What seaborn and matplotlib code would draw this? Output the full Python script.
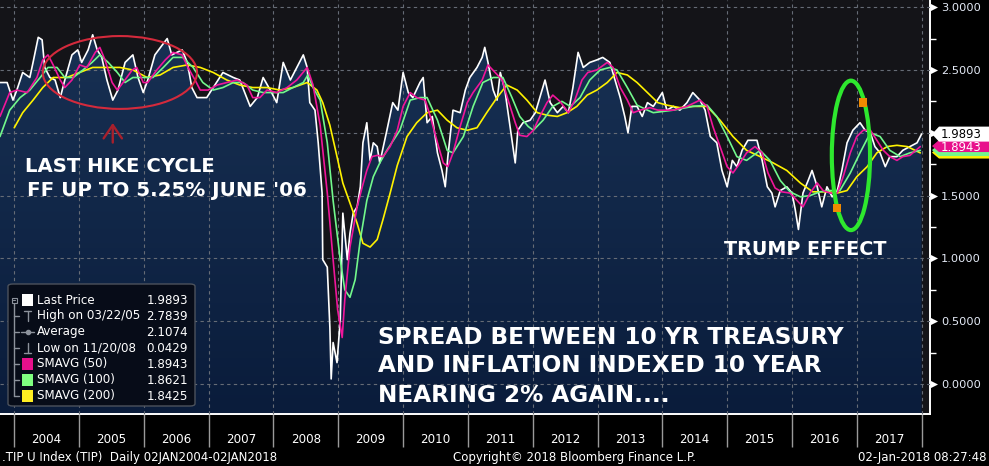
import numpy as np
import pandas as pd
import matplotlib
matplotlib.use("Agg")
import matplotlib.pyplot as plt
import matplotlib.transforms as mtransforms
from matplotlib.patches import Ellipse, FancyBboxPatch, Rectangle, Polygon
from matplotlib.lines import Line2D
import seaborn as sns

# ---------------- data ----------------
price_t = [2003.78, 2003.89, 2003.98, 2004.04, 2004.13, 2004.24, 2004.29, 2004.37, 2004.43, 2004.47,
           2004.55, 2004.63, 2004.71, 2004.78, 2004.89, 2004.98, 2005.04, 2005.14, 2005.21, 2005.28,
           2005.35, 2005.43, 2005.52, 2005.60, 2005.71, 2005.83, 2005.91, 2005.99, 2006.06, 2006.17,
           2006.30, 2006.36, 2006.43, 2006.59, 2006.67, 2006.74, 2006.82, 2006.97, 2007.07, 2007.22,
           2007.38, 2007.48, 2007.64, 2007.75, 2007.84, 2007.95, 2008.05, 2008.15, 2008.26, 2008.36,
           2008.46, 2008.52, 2008.56, 2008.64, 2008.69, 2008.75, 2008.76, 2008.83, 2008.87, 2008.89,
           2008.92, 2008.98, 2009.03, 2009.07, 2009.14, 2009.18, 2009.23, 2009.29, 2009.34, 2009.38,
           2009.44, 2009.49, 2009.54, 2009.60, 2009.64, 2009.75, 2009.84, 2009.92, 2010.00, 2010.08,
           2010.15, 2010.26, 2010.31, 2010.37, 2010.45, 2010.53, 2010.60, 2010.65, 2010.69, 2010.77,
           2010.88, 2010.96, 2011.03, 2011.14, 2011.22, 2011.26, 2011.31, 2011.39, 2011.45, 2011.50,
           2011.57, 2011.65, 2011.73, 2011.77, 2011.85, 2011.96, 2012.04, 2012.11, 2012.19, 2012.27,
           2012.38, 2012.47, 2012.55, 2012.62, 2012.70, 2012.78, 2012.88, 2012.99, 2013.08, 2013.19,
           2013.27, 2013.35, 2013.42, 2013.47, 2013.53, 2013.61, 2013.69, 2013.77, 2013.86, 2014.00,
           2014.07, 2014.17, 2014.27, 2014.38, 2014.47, 2014.58, 2014.66, 2014.74, 2014.84, 2014.92,
           2015.00, 2015.08, 2015.15, 2015.23, 2015.32, 2015.46, 2015.54, 2015.62, 2015.69, 2015.74,
           2015.82, 2015.92, 2016.00, 2016.05, 2016.10, 2016.17, 2016.25, 2016.31, 2016.39, 2016.46,
           2016.54, 2016.62, 2016.70, 2016.77, 2016.85, 2016.94, 2017.05, 2017.13, 2017.21, 2017.28,
           2017.36, 2017.44, 2017.51, 2017.62, 2017.71, 2017.82, 2017.93, 2018.00]
price_v = [2.40, 2.40, 2.26, 2.34, 2.48, 2.44, 2.56, 2.76, 2.74, 2.52,
           2.44, 2.42, 2.28, 2.42, 2.62, 2.66, 2.56, 2.66, 2.78, 2.66,
           2.60, 2.42, 2.26, 2.34, 2.56, 2.62, 2.44, 2.32, 2.42, 2.62,
           2.71, 2.75, 2.62, 2.66, 2.56, 2.36, 2.28, 2.28, 2.36, 2.48,
           2.44, 2.42, 2.21, 2.28, 2.44, 2.34, 2.24, 2.56, 2.42, 2.52,
           2.62, 2.52, 2.24, 2.18, 1.92, 1.52, 0.99, 0.93, 0.45, 0.04,
           0.33, 0.17, 0.51, 1.36, 0.99, 1.20, 1.36, 1.41, 1.57, 1.92,
           2.08, 1.78, 1.92, 1.89, 1.76, 2.02, 2.24, 2.18, 2.48, 2.32,
           2.28, 2.40, 2.44, 2.08, 2.13, 1.84, 1.70, 1.57, 1.81, 2.18,
           2.16, 2.34, 2.44, 2.52, 2.60, 2.68, 2.56, 2.34, 2.26, 2.48,
           2.34, 2.05, 1.76, 2.02, 2.08, 2.10, 2.16, 2.28, 2.42, 2.24,
           2.16, 2.21, 2.16, 2.36, 2.64, 2.52, 2.56, 2.58, 2.60, 2.56,
           2.42, 2.28, 2.13, 2.00, 2.21, 2.21, 2.13, 2.24, 2.21, 2.32,
           2.18, 2.21, 2.18, 2.24, 2.32, 2.26, 2.18, 1.97, 1.92, 1.70,
           1.57, 1.78, 1.73, 1.86, 1.94, 1.94, 1.78, 1.57, 1.52, 1.41,
           1.54, 1.57, 1.52, 1.39, 1.23, 1.52, 1.62, 1.70, 1.57, 1.41,
           1.57, 1.49, 1.54, 1.70, 1.92, 2.02, 2.08, 2.02, 2.00, 1.89,
           1.84, 1.73, 1.81, 1.81, 1.86, 1.89, 1.92, 1.99]

sma50_t = [2003.78, 2003.93, 2004.04, 2004.20, 2004.35, 2004.44, 2004.52, 2004.60, 2004.71, 2004.78,
           2004.89, 2005.01, 2005.12, 2005.25, 2005.32, 2005.40, 2005.51, 2005.59, 2005.68, 2005.82,
           2005.89, 2005.99, 2006.06, 2006.20, 2006.33, 2006.45, 2006.59, 2006.68, 2006.79, 2006.87,
           2006.99, 2007.13, 2007.28, 2007.44, 2007.59, 2007.68, 2007.79, 2007.90, 2008.05, 2008.21,
           2008.36, 2008.52, 2008.61, 2008.72, 2008.83, 2008.92, 2008.99, 2009.06, 2009.10, 2009.18,
           2009.29, 2009.37, 2009.44, 2009.52, 2009.60, 2009.69, 2009.80, 2009.91, 2010.00, 2010.11,
           2010.21, 2010.34, 2010.42, 2010.53, 2010.62, 2010.69, 2010.77, 2010.88, 2010.99, 2011.08,
           2011.22, 2011.31, 2011.42, 2011.53, 2011.62, 2011.73, 2011.80, 2011.91, 2012.01, 2012.11,
           2012.22, 2012.31, 2012.42, 2012.55, 2012.65, 2012.76, 2012.85, 2012.99, 2013.15, 2013.24,
           2013.35, 2013.46, 2013.55, 2013.66, 2013.81, 2013.93, 2014.17, 2014.38, 2014.58, 2014.69,
           2014.78, 2014.89, 2015.00, 2015.09, 2015.20, 2015.30, 2015.43, 2015.54, 2015.63, 2015.74,
           2015.84, 2015.97, 2016.08, 2016.17, 2016.28, 2016.39, 2016.48, 2016.59, 2016.70, 2016.79,
           2016.90, 2017.00, 2017.10, 2017.21, 2017.31, 2017.41, 2017.51, 2017.62, 2017.71, 2017.82,
           2017.98]
sma50_v = [2.13, 2.32, 2.34, 2.32, 2.44, 2.58, 2.62, 2.54, 2.42, 2.36,
           2.42, 2.54, 2.52, 2.64, 2.68, 2.58, 2.40, 2.34, 2.40, 2.50,
           2.52, 2.40, 2.40, 2.50, 2.58, 2.64, 2.62, 2.52, 2.42, 2.34,
           2.34, 2.38, 2.40, 2.42, 2.38, 2.28, 2.28, 2.34, 2.32, 2.36,
           2.42, 2.52, 2.38, 2.06, 1.52, 0.99, 0.59, 0.37, 0.67, 1.09,
           1.41, 1.57, 1.70, 1.81, 1.82, 1.81, 1.89, 2.02, 2.21, 2.32,
           2.28, 2.26, 2.13, 1.92, 1.76, 1.73, 1.84, 2.05, 2.24, 2.32,
           2.42, 2.54, 2.48, 2.42, 2.26, 2.08, 1.98, 1.97, 2.02, 2.13,
           2.24, 2.30, 2.25, 2.16, 2.26, 2.42, 2.48, 2.50, 2.56, 2.52,
           2.36, 2.26, 2.16, 2.18, 2.20, 2.18, 2.18, 2.21, 2.26, 2.21,
           2.05, 1.89, 1.73, 1.68, 1.76, 1.84, 1.89, 1.84, 1.68, 1.56,
           1.53, 1.52, 1.46, 1.41, 1.52, 1.60, 1.54, 1.52, 1.52, 1.65,
           1.84, 1.97, 2.02, 2.02, 1.94, 1.86, 1.81, 1.78, 1.81, 1.82,
           1.89]

sma100_t = [2003.78, 2003.93, 2004.09, 2004.24, 2004.40, 2004.52, 2004.66, 2004.78, 2004.91, 2005.06,
            2005.20, 2005.32, 2005.45, 2005.59, 2005.71, 2005.83, 2005.99, 2006.14, 2006.30, 2006.45,
            2006.60, 2006.76, 2006.91, 2007.07, 2007.22, 2007.38, 2007.53, 2007.68, 2007.84, 2007.99,
            2008.15, 2008.30, 2008.46, 2008.53, 2008.61, 2008.72, 2008.83, 2008.92, 2009.03, 2009.10,
            2009.18, 2009.26, 2009.34, 2009.44, 2009.54, 2009.64, 2009.75, 2009.95, 2010.11, 2010.26,
            2010.37, 2010.53, 2010.68, 2010.77, 2010.93, 2011.08, 2011.23, 2011.39, 2011.54, 2011.68,
            2011.80, 2011.93, 2012.01, 2012.16, 2012.31, 2012.45, 2012.58, 2012.73, 2012.88, 2013.04,
            2013.19, 2013.30, 2013.46, 2013.61, 2013.77, 2013.86, 2014.17, 2014.47, 2014.69, 2014.84,
            2015.00, 2015.15, 2015.30, 2015.51, 2015.66, 2015.82, 2015.97, 2016.13, 2016.28, 2016.43,
            2016.59, 2016.74, 2016.90, 2017.05, 2017.21, 2017.36, 2017.51, 2017.67, 2017.82, 2017.98]
sma100_v = [1.97, 2.18, 2.28, 2.34, 2.44, 2.52, 2.52, 2.44, 2.44, 2.50,
            2.56, 2.62, 2.56, 2.48, 2.40, 2.44, 2.44, 2.44, 2.52, 2.60,
            2.60, 2.52, 2.40, 2.34, 2.36, 2.40, 2.40, 2.34, 2.32, 2.32,
            2.32, 2.36, 2.40, 2.46, 2.36, 2.26, 1.92, 1.46, 0.99, 0.75,
            0.69, 0.83, 1.15, 1.46, 1.65, 1.76, 1.86, 2.02, 2.26, 2.28,
            2.28, 2.10, 1.86, 1.84, 1.97, 2.21, 2.40, 2.44, 2.44, 2.28,
            2.13, 2.05, 2.02, 2.10, 2.21, 2.25, 2.21, 2.28, 2.42, 2.50,
            2.52, 2.50, 2.36, 2.22, 2.18, 2.16, 2.18, 2.21, 2.22, 2.13,
            1.97, 1.81, 1.78, 1.86, 1.78, 1.62, 1.53, 1.49, 1.50, 1.53,
            1.54, 1.54, 1.68, 1.84, 2.00, 1.97, 1.86, 1.81, 1.84, 1.86]

sma200_t = [2004.00, 2004.13, 2004.29, 2004.44, 2004.60, 2004.81, 2005.01, 2005.21, 2005.43, 2005.63,
            2005.83, 2006.05, 2006.25, 2006.45, 2006.67, 2006.87, 2007.07, 2007.28, 2007.48, 2007.68,
            2007.90, 2008.10, 2008.30, 2008.52, 2008.67, 2008.76, 2008.87, 2008.98, 2009.07, 2009.18,
            2009.29, 2009.38, 2009.49, 2009.60, 2009.69, 2009.80, 2009.91, 2010.06, 2010.21, 2010.37,
            2010.53, 2010.68, 2010.83, 2010.99, 2011.14, 2011.29, 2011.45, 2011.60, 2011.76, 2011.91,
            2012.07, 2012.22, 2012.38, 2012.53, 2012.68, 2012.84, 2012.99, 2013.15, 2013.30, 2013.46,
            2013.61, 2013.77, 2013.93, 2014.07, 2014.27, 2014.47, 2014.69, 2014.89, 2015.09, 2015.30,
            2015.51, 2015.71, 2015.92, 2016.13, 2016.32, 2016.54, 2016.70, 2016.85, 2017.00, 2017.16,
            2017.31, 2017.47, 2017.62, 2017.78, 2017.98]
sma200_v = [2.04, 2.16, 2.26, 2.36, 2.44, 2.44, 2.48, 2.52, 2.52, 2.52,
            2.50, 2.44, 2.46, 2.52, 2.54, 2.52, 2.48, 2.42, 2.38, 2.36,
            2.36, 2.34, 2.36, 2.40, 2.34, 2.24, 2.06, 1.81, 1.60, 1.44,
            1.28, 1.12, 1.09, 1.15, 1.31, 1.52, 1.74, 1.97, 2.08, 2.16,
            2.18, 2.10, 2.04, 2.02, 2.04, 2.16, 2.28, 2.38, 2.34, 2.26,
            2.16, 2.14, 2.13, 2.16, 2.21, 2.30, 2.34, 2.40, 2.48, 2.46,
            2.40, 2.32, 2.24, 2.22, 2.20, 2.21, 2.21, 2.10, 1.97, 1.86,
            1.81, 1.76, 1.70, 1.60, 1.53, 1.53, 1.52, 1.54, 1.65, 1.73,
            1.84, 1.89, 1.90, 1.89, 1.84]

marker_t = [2017.10, 2016.69]
marker_v = [2.24, 1.40]

years = list(range(2004, 2018))
y_major = [0.0, 0.5, 1.0, 1.5, 2.0, 2.5, 3.0]
y_minor = [0.25, 0.75, 1.25, 1.75, 2.25, 2.75]

legend_labels = ["Last Price", "High on 03/22/05", "Average", "Low on 11/20/08",
                 "SMAVG (50)", "SMAVG (100)", "SMAVG (200)"]
legend_values = [1.9893, 2.7839, 2.1074, 0.0429, 1.8943, 1.8621, 1.8425]

# ---------------- styling ----------------
sns.set_theme(style="dark")
plt.rcParams['font.family'] = ['DejaVu Sans']

C_PRICE = '#ffffff'
C_S50 = '#f0169a'
C_S100 = '#72f88c'
C_S200 = '#fff200'

W, H = 989, 466
fig = plt.figure(figsize=(W / 100, H / 100), dpi=100, facecolor='black')


def fx(px):
    return px / W


def fy(py):
    return 1 - py / H


ax = fig.add_axes([0, fy(414), fx(930), 414 / H])
ax.set_facecolor('#141418')
XMIN, XMAX = 2003.78, 2018.13
YMIN, YMAX = -0.239, 3.057

# gradient fill under the price line
poly = ax.fill_between(price_t, price_v, YMIN, facecolor='none', edgecolor='none', lw=0)
grad = np.linspace(0, 1, 256)[:, None, None]
top = np.array([0x18, 0x31, 0x54]) / 255
bot = np.array([0x0a, 0x1c, 0x3b]) / 255
img = top[None, None, :] * (1 - grad) + bot[None, None, :] * grad
im = ax.imshow(img, extent=[XMIN, XMAX, YMIN, 2.85], aspect='auto', origin='upper',
               zorder=1, interpolation='bilinear')
im.set_clip_path(poly.get_paths()[0], transform=ax.transData)

# lines
df_p = pd.DataFrame({'t': price_t, 'v': price_v})
sns.lineplot(data=df_p, x='t', y='v', ax=ax, color=C_PRICE, lw=1.2, zorder=3,
             estimator=None, sort=False)
sns.lineplot(x=sma200_t, y=sma200_v, ax=ax, color=C_S200, lw=1.2, zorder=4, estimator=None, sort=False)
sns.lineplot(x=sma100_t, y=sma100_v, ax=ax, color=C_S100, lw=1.2, zorder=4.1, estimator=None, sort=False)
sns.lineplot(x=sma50_t, y=sma50_v, ax=ax, color=C_S50, lw=1.2, zorder=4.2, estimator=None, sort=False)

ax.set_xlim(XMIN, XMAX)
ax.set_ylim(YMIN, YMAX)
ax.set_xlabel('')
ax.set_ylabel('')

# x axis: separators at year boundaries, labels centred
ax.set_xticks(list(range(2004, 2019)))
ax.set_xticklabels([])
ax.set_xticks([y + 0.5 for y in years], minor=True)
ax.set_xticklabels([str(y) for y in years], minor=True)
ax.tick_params(axis='x', which='major', direction='out', length=24, width=1,
               color='#9a9a9a', bottom=True)
ax.tick_params(axis='x', which='minor', length=0, pad=14, labelsize=8.6,
               labelcolor='white', bottom=True)

# y axis on the right
ax.yaxis.tick_right()
ax.set_yticks(y_major)
ax.set_yticklabels([f"{v:.4f}" for v in y_major])
ax.set_yticks(y_minor, minor=True)
ax.tick_params(axis='y', which='major', length=0, pad=8, labelsize=8.2,
               labelcolor='#e4eaf6', right=True, left=False)
ax.tick_params(axis='y', which='minor', length=4, width=1, color='white',
               direction='out', right=True, left=False)

ax.grid(True, which='major', color='#666c76', ls=(0, (3, 3)), lw=0.8)
ax.set_axisbelow(False)
for s in ['top', 'left']:
    ax.spines[s].set_visible(False)
for s in ['right', 'bottom']:
    ax.spines[s].set_visible(True)
    ax.spines[s].set_color('white')
    ax.spines[s].set_linewidth(1.4)

trans = mtransforms.blended_transform_factory(ax.transAxes, ax.transData)
ax.scatter([1.0045] * len(y_major), y_major, marker='>', s=26, color='white',
           transform=trans, clip_on=False, zorder=10, linewidths=0)

# right-hand value tags
ppd = 414 / (YMAX - YMIN)  # pixels per data unit


def tag(v, color, hpx, z):
    h = hpx / ppd / 2
    pts = [(1.0 + 2 / 930, v), (939 / 930, v + h), (989 / 930, v + h),
           (989 / 930, v - h), (939 / 930, v - h)]
    p = Polygon(pts, closed=True, transform=trans, facecolor=color, edgecolor='none',
                clip_on=False, zorder=z)
    ax.add_patch(p)


tag(legend_values[6], C_S200, 12, 11)
tag(legend_values[5], C_S100, 12, 12)
tag(legend_values[4], '#e8108c', 12, 13)
tag(legend_values[0], 'white', 15, 14)
ax.text(941 / 930, legend_values[4] - 0.01, f"{legend_values[4]:.4f}", transform=trans,
        color='white', fontsize=8.4, va='center', ha='left', zorder=13.5, clip_on=False)
ax.text(941 / 930, legend_values[0], f"{legend_values[0]:.4f}", transform=trans,
        color='black', fontsize=8.4, va='center', ha='left', zorder=15, clip_on=False)

# annotations
ax.add_patch(Ellipse((2005.63, 2.48), 2.38, 0.58, fill=False, edgecolor='#d42a3c',
                     lw=1.5, zorder=6))
ax.annotate('', xy=(2005.52, 2.10), xytext=(2005.52, 1.90),
            arrowprops=dict(arrowstyle='->,head_length=0.8,head_width=0.55',
                            color='#a8202c', lw=1.7), zorder=6)
ax.add_patch(Ellipse((2016.91, 1.82), 0.59, 1.19, fill=False, edgecolor='#2ee82e',
                     lw=3, zorder=6))
sns.scatterplot(x=marker_t, y=marker_v, ax=ax, marker='s', s=36, color='#f08a00',
                edgecolor='none', zorder=7, legend=False)

bold = dict(color='white', fontweight='bold', va='center', ha='left', zorder=30)
fig.text(fx(25), fy(167), "LAST HIKE CYCLE", fontsize=14.1, **bold)
fig.text(fx(27), fy(190), "FF UP TO 5.25% JUNE '06", fontsize=14.3, **bold)
fig.text(fx(724), fy(250), "TRUMP EFFECT", fontsize=13.8, **bold)
fig.text(fx(378), fy(337), "SPREAD BETWEEN 10 YR TREASURY", fontsize=16.7, **bold)
fig.text(fx(378), fy(366), "AND INFLATION INDEXED 10 YEAR", fontsize=16.7, **bold)
fig.text(fx(378), fy(396), "NEARING 2% AGAIN....", fontsize=16.7, **bold)

# legend box
lg = FancyBboxPatch((fx(8), fy(406)), fx(195) - fx(8), fy(284) - fy(406),
                    boxstyle='round,pad=0,rounding_size=0.005', transform=fig.transFigure,
                    facecolor='#070c18', edgecolor='#4c525c', lw=1, zorder=20)
fig.add_artist(lg)
rows = [300 + 16 * i for i in range(7)]
gray = '#8c929c'
fig.add_artist(Line2D([fx(14), fx(14)], [fy(303), fy(rows[-1])], color=gray, lw=1,
                      transform=fig.transFigure, zorder=21))
fig.add_artist(Rectangle((fx(11.5), fy(302.5)), 5 / W, 5 / H, facecolor='#070c18',
                         edgecolor=gray, lw=0.8, transform=fig.transFigure, zorder=22))
fig.add_artist(Line2D([fx(12.5), fx(15.5)], [fy(300), fy(300)], color=gray, lw=0.8,
                      transform=fig.transFigure, zorder=23))
for r in rows[1:]:
    fig.add_artist(Line2D([fx(14), fx(19)], [fy(r), fy(r)], color=gray, lw=1,
                          transform=fig.transFigure, zorder=21))
sq_colors = ['white', None, None, None, '#e8108c', '#80ff80', '#ffee22']
for i, (r, c) in enumerate(zip(rows, sq_colors)):
    if c is not None:
        fig.add_artist(Rectangle((fx(22), fy(r + 6)), 11 / W, 12 / H, facecolor=c,
                                 edgecolor='none', transform=fig.transFigure, zorder=22))
# high symbol
fig.add_artist(Line2D([fx(27.5), fx(27.5)], [fy(rows[1] - 5), fy(rows[1] + 5)], color=gray,
                      lw=1, transform=fig.transFigure, zorder=22))
fig.add_artist(Line2D([fx(24), fx(31)], [fy(rows[1] - 5), fy(rows[1] - 5)], color=gray,
                      lw=1, transform=fig.transFigure, zorder=22))
# average symbol
fig.add_artist(Line2D([fx(21), fx(34)], [fy(rows[2]), fy(rows[2])], color=gray, lw=1,
                      transform=fig.transFigure, zorder=22))
fig.add_artist(Line2D([fx(27.5)], [fy(rows[2])], color=gray, marker='o', ms=3,
                      transform=fig.transFigure, zorder=22))
# low symbol
fig.add_artist(Line2D([fx(27.5), fx(27.5)], [fy(rows[3] - 5), fy(rows[3] + 5)], color=gray,
                      lw=1, transform=fig.transFigure, zorder=22))
fig.add_artist(Line2D([fx(24), fx(31)], [fy(rows[3] + 5), fy(rows[3] + 5)], color=gray,
                      lw=1, transform=fig.transFigure, zorder=22))
for r, lab, val in zip(rows, legend_labels, legend_values):
    fig.text(fx(37), fy(r), lab, fontsize=8.6, color='white', va='center', ha='left', zorder=23)
    fig.text(fx(188), fy(r), f"{val:.4f}", fontsize=8.6, color='white', va='center',
             ha='right', zorder=23)

# footer
foot = dict(fontsize=8.5, color='white', va='center', zorder=30)
fig.text(fx(2), fy(458), ".TIP U Index (TIP)  Daily 02JAN2004-02JAN2018", ha='left', **foot)
fig.text(fx(453), fy(458), "Copyright\u00a9 2018 Bloomberg Finance L.P.", ha='left', **foot)
fig.text(fx(986), fy(458), "02-Jan-2018 08:27:48", ha='right', **foot)

fig.savefig('out.png', dpi=100, facecolor='black')
